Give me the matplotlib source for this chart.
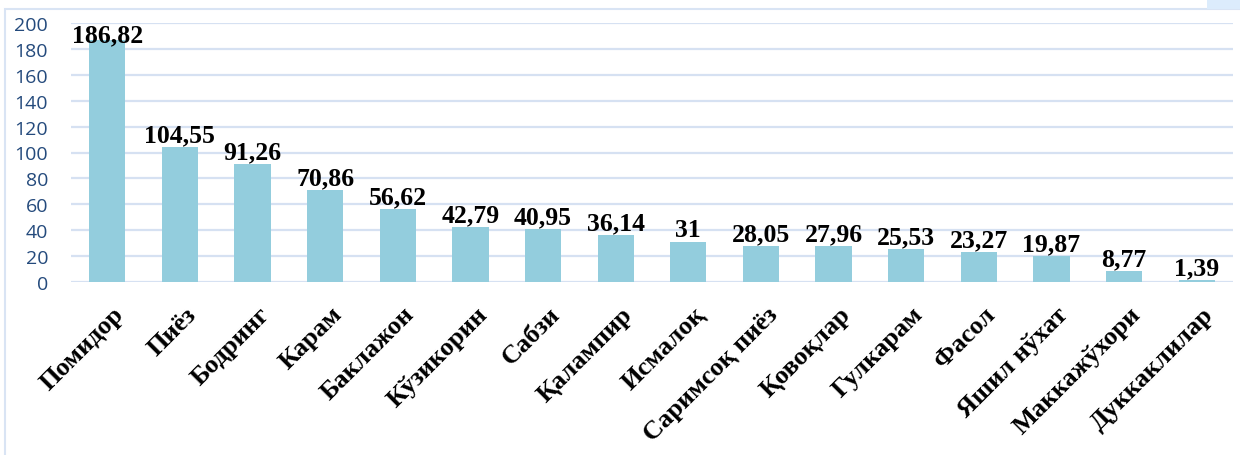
import matplotlib
matplotlib.use("Agg")
import matplotlib.pyplot as plt
from matplotlib.patches import Rectangle
from matplotlib.transforms import ScaledTranslation

categories = ["Помидор", "Пиёз", "Бодринг", "Карам", "Баклажон", "Кўзикорин",
              "Сабзи", "Қалампир", "Исмалоқ", "Саримсоқ пиёз", "Қовоқлар",
              "Гулкарам", "Фасол", "Яшил нўхат", "Маккажўхори", "Дуккаклилар"]
values = [186.82, 104.55, 91.26, 70.86, 56.62, 42.79, 40.95, 36.14, 31,
          28.05, 27.96, 25.53, 23.27, 19.87, 8.77, 1.39]
value_labels = ["186,82", "104,55", "91,26", "70,86", "56,62", "42,79", "40,95",
                "36,14", "31", "28,05", "27,96", "25,53", "23,27", "19,87", "8,77", "1,39"]
yticks = [0, 20, 40, 60, 80, 100, 120, 140, 160, 180, 200]

fig = plt.figure(figsize=(12.4, 4.56), dpi=100)
fig.patch.set_facecolor("white")

# chart frame
fig.add_artist(Rectangle((5/1240, -0.01), 1.2, 1 - 10/456 + 0.01, transform=fig.transFigure,
                         fill=False, edgecolor="#d9e4f4", linewidth=1.5))
fig.add_artist(Rectangle((1207/1240, 1 - 10/456), 40/1240, 12/456, transform=fig.transFigure,
                         facecolor="#dcecfc", edgecolor="none"))

ax = fig.add_axes([71/1240, 1 - 283/456, (1233 - 71)/1240, (283 - 24)/456])
x = range(len(categories))
ax.bar(x, values, width=0.5, color="#93CDDD", zorder=3)
ax.set_xlim(-0.5, len(categories) - 0.5)
ax.set_ylim(0, 200)
ax.set_yticks(yticks)
ax.yaxis.grid(True, color="#d6e1f2", linewidth=1.6, zorder=0)
ax.set_axisbelow(True)
for s in ax.spines.values():
    s.set_visible(False)
ax.tick_params(axis="y", length=0, pad=16.5, labelsize=14, labelcolor="#244a7c")
for lab in ax.get_yticklabels():
    lab.set_fontfamily("Open Sans")
ax.tick_params(axis="x", length=0, pad=14.5)
ax.set_xticks(list(x))
ax.set_xticklabels(categories, rotation=45, ha="right", va="top", rotation_mode="anchor",
                   fontfamily="Liberation Serif", fontweight="bold", fontsize=19)
# small shift of x labels to the right, as in the reference
for lab in ax.get_xticklabels():
    lab.set_transform(lab.get_transform() + ScaledTranslation(5/100, 0, fig.dpi_scale_trans))

anns = []
for i, (v, t) in enumerate(zip(values, value_labels)):
    a = ax.annotate(t, (i, v), xytext=(0, 4), textcoords="offset points",
                    ha="center", va="baseline", fontfamily="Liberation Serif",
                    fontweight="bold", fontsize=18.5, color="black", annotation_clip=False)
    anns.append(a)

# keep labels inside the plot area (as the original chart does)
fig.canvas.draw()
renderer = fig.canvas.get_renderer()
ax_top = ax.get_window_extent(renderer).y1
for a in anns:
    bb = a.get_window_extent(renderer)
    if bb.y1 > ax_top:
        over = (bb.y1 - ax_top) * 72 / fig.dpi
        a.xyann = (0, 4 - over)

fig.savefig("out.png", dpi=100)
